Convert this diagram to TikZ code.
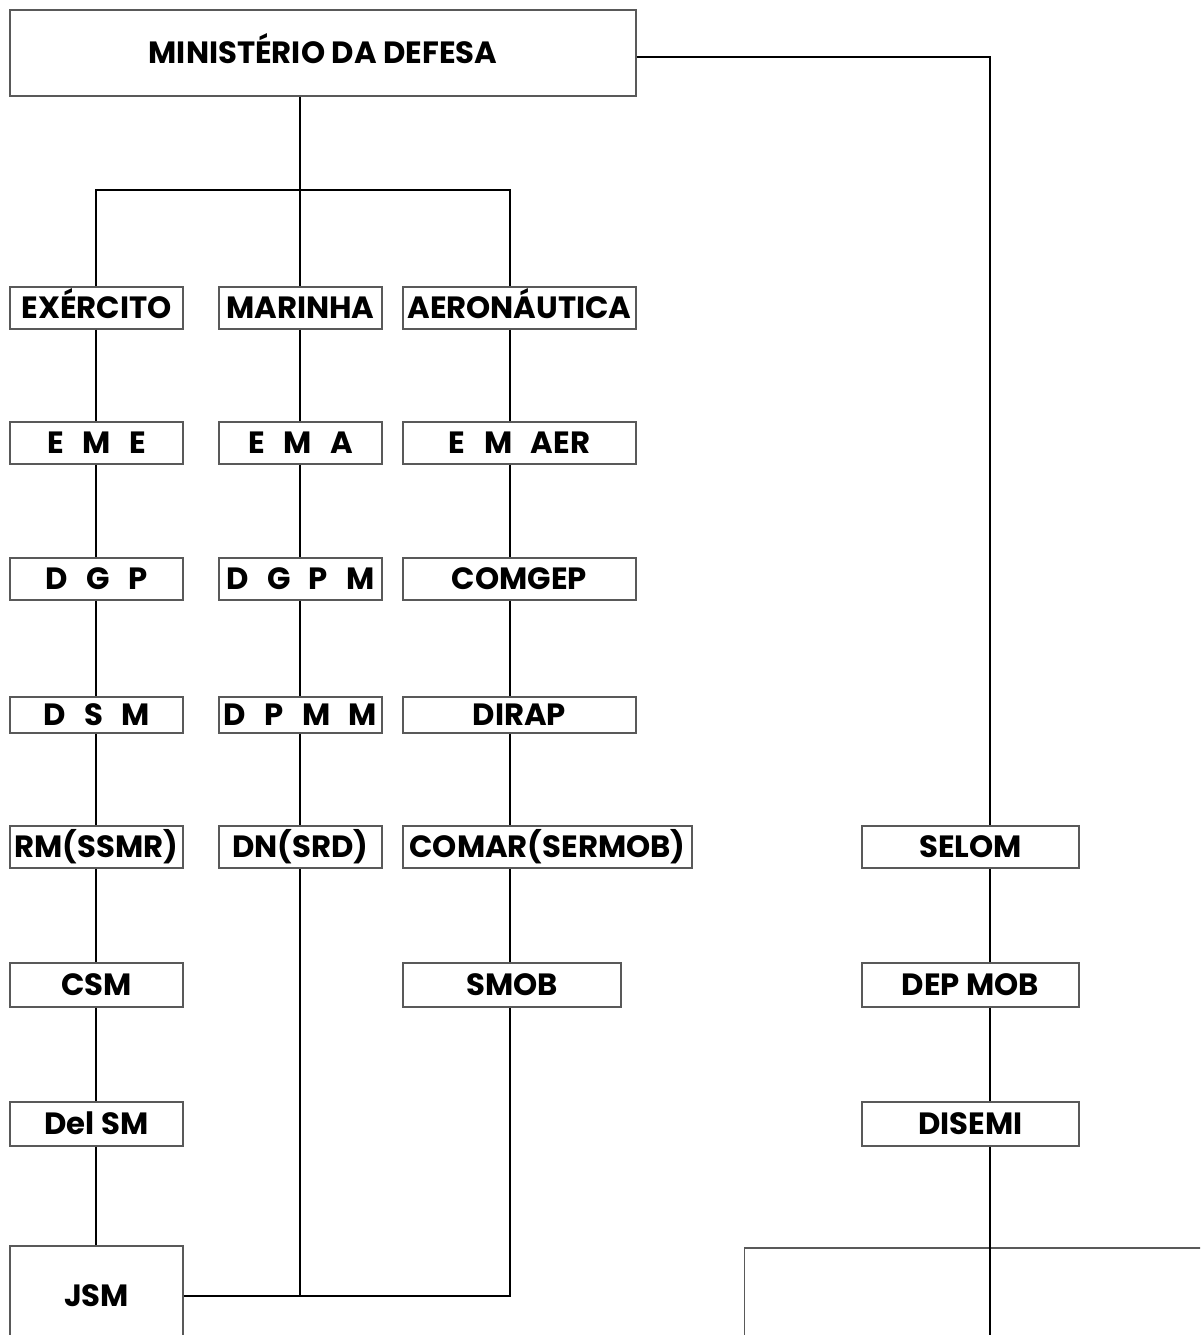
\documentclass[tikz,border=0pt]{standalone}
\usepackage{fontspec}
\setmainfont{Poppins}
\usepackage{tikz}
\usetikzlibrary{positioning, calc}
\newcommand{\gap}{\hspace{0.6em}}
\tikzstyle{unit}  = [rectangle, draw=black!65, line width=0.8pt, fill=white,
                     minimum height=0.84cm, inner sep=0pt, text centered,
                     text height=12.2pt, text depth=0pt,
                     font=\fontsize{17.5}{20}\selectfont\bfseries]
\tikzstyle{link}  = [black, line width=0.6pt]

\begin{document}
\begin{tikzpicture}[x=0.02cm, y=-0.02cm,
    wA/.style={unit, minimum width=3.46cm},
    wB/.style={unit, minimum width=3.26cm},
    wC/.style={unit, minimum width=4.66cm},
    wD/.style={unit, minimum width=4.34cm}]

  \useasboundingbox (0,0) rectangle (1200,1335);
  \clip (0,0) rectangle (1200,1335);

  % columns
  \coordinate (c1)  at (96,0);
  \coordinate (c2)  at (300,0);
  \coordinate (c3)  at (510,0);
  \coordinate (c4)  at (990,0);
  \coordinate (hub) at (300,190);

  \node[unit, minimum width=12.52cm, minimum height=1.72cm] (md) at (323,53) {MINISTÉRIO DA DEFESA};

  \node[wA] (exe)    at (96.5,308)  {EXÉRCITO};
  \node[wB] (mar)    at (300.5,308) {MARINHA};
  \node[wC] (aer)    at (519.5,308) {AERONÁUTICA};

  \node[wA] (eme)    at (96.5,443)  {E\gap M\gap E};
  \node[wB] (ema)    at (300.5,443) {E\gap M\gap A};
  \node[wC] (emaer)  at (519.5,443) {E\gap M\gap AER};

  \node[wA] (dgp)    at (96.5,579)  {D\gap G\gap P};
  \node[wB] (dgpm)   at (300.5,579) {D\gap G\gap P\gap M};
  \node[wC] (comgep) at (519.5,579) {COMGEP};

  \node[wA, minimum height=0.72cm] (dsm)   at (96.5,715)  {D\gap S\gap M};
  \node[wB, minimum height=0.72cm] (dpmm)  at (300.5,715) {D\gap P\gap M\gap M};
  \node[wC, minimum height=0.72cm] (dirap) at (519.5,715) {DIRAP};

  \node[wA] (rm)     at (96.5,847)  {RM(SSMR)};
  \node[wB] (dn)     at (300.5,847) {DN(SRD)};
  \node[unit, minimum width=5.78cm] (comar) at (547.5,847) {COMAR(SERMOB)};
  \node[wD] (selom)  at (970.5,847) {SELOM};

  \node[wA, minimum height=0.88cm] (csm)    at (96.5,985)  {CSM};
  \node[unit, minimum width=4.36cm, minimum height=0.88cm] (smob) at (512,985) {SMOB};
  \node[wD, minimum height=0.88cm] (depmob) at (970.5,985) {DEP MOB};

  \node[wA, minimum height=0.88cm] (delsm)  at (96.5,1124)  {Del SM};
  \node[wD, minimum height=0.88cm] (disemi) at (970.5,1124) {DISEMI};

  \node[wA, minimum height=2cm] (jsm) at (96.5,1296) {JSM};
  \node[unit, minimum width=10.3cm, minimum height=2.1cm] (base) at (1002,1300.5) {};
  \coordinate (foot) at (990,1345);

  % top
  \draw[link] ($(md.east)+(0,4)$) -| (selom.north -| c4);
  \draw[link] (md.south -| hub) -- (hub);
  \draw[link] (exe.north -| c1) |- (hub) -| (aer.north -| c3);
  \draw[link] (hub) -- (mar.north -| hub);

  % exercito
  \draw[link] (exe.south -| c1)   -- (eme.north -| c1);
  \draw[link] (eme.south -| c1)   -- (dgp.north -| c1);
  \draw[link] (dgp.south -| c1)   -- (dsm.north -| c1);
  \draw[link] (dsm.south -| c1)   -- (rm.north -| c1);
  \draw[link] (rm.south -| c1)    -- (csm.north -| c1);
  \draw[link] (csm.south -| c1)   -- (delsm.north -| c1);
  \draw[link] (delsm.south -| c1) -- (jsm.north -| c1);

  % marinha
  \draw[link] (mar.south -| c2)  -- (ema.north -| c2);
  \draw[link] (ema.south -| c2)  -- (dgpm.north -| c2);
  \draw[link] (dgpm.south -| c2) -- (dpmm.north -| c2);
  \draw[link] (dpmm.south -| c2) -- (dn.north -| c2);
  \draw[link] (dn.south -| c2)   |- (jsm.east);

  % aeronautica
  \draw[link] (aer.south -| c3)    -- (emaer.north -| c3);
  \draw[link] (emaer.south -| c3)  -- (comgep.north -| c3);
  \draw[link] (comgep.south -| c3) -- (dirap.north -| c3);
  \draw[link] (dirap.south -| c3)  -- (comar.north -| c3);
  \draw[link] (comar.south -| c3)  -- (smob.north -| c3);
  \draw[link] (jsm.east) -| (smob.south -| c3);

  % selom
  \draw[link] (selom.south -| c4)  -- (depmob.north -| c4);
  \draw[link] (depmob.south -| c4) -- (disemi.north -| c4);
  \draw[link] (disemi.south -| c4) -- (foot);
\end{tikzpicture}
\end{document}
